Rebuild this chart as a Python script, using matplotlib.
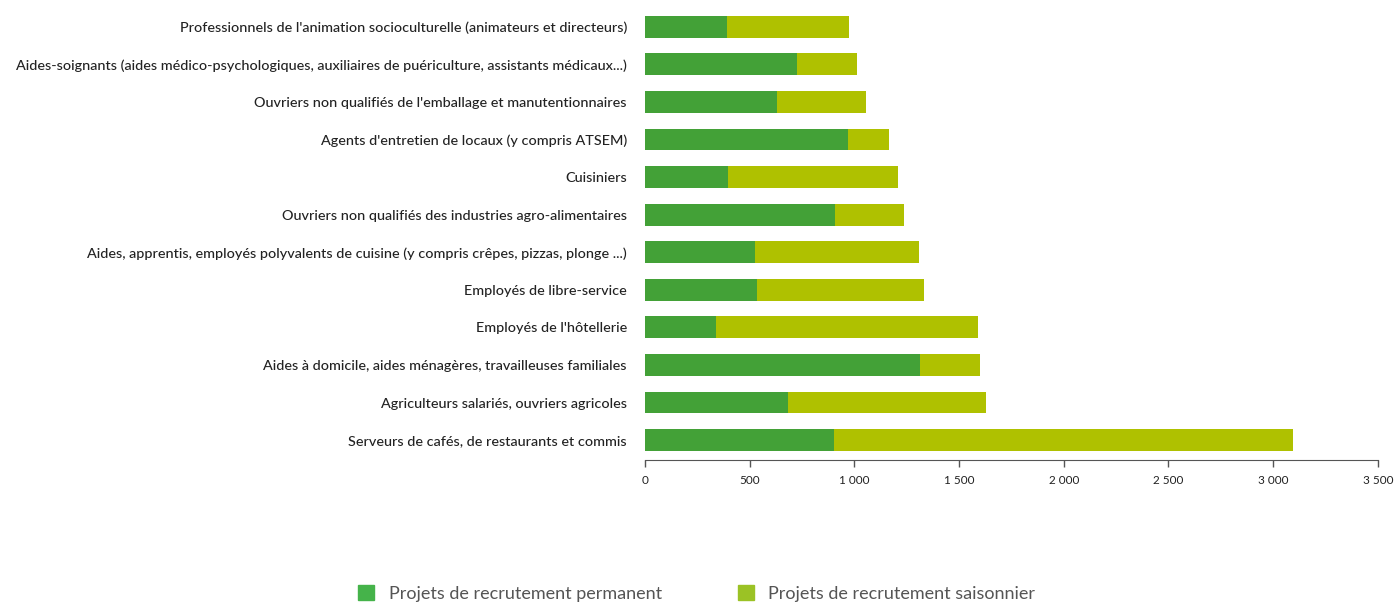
import matplotlib.pyplot as plt
from matplotlib.patches import Patch
from matplotlib.ticker import FuncFormatter

categories = [
    "Professionnels de l'animation socioculturelle (animateurs et directeurs)",
    "Aides-soignants (aides médico-psychologiques, auxiliaires de puériculture, assistants médicaux...)",
    "Ouvriers non qualifiés de l'emballage et manutentionnaires",
    "Agents d'entretien de locaux (y compris ATSEM)",
    "Cuisiniers",
    "Ouvriers non qualifiés des industries agro-alimentaires",
    "Aides, apprentis, employés polyvalents de cuisine (y compris crêpes, pizzas, plonge ...)",
    "Employés de libre-service",
    "Employés de l'hôtellerie",
    "Aides à domicile, aides ménagères, travailleuses familiales",
    "Agriculteurs salariés, ouvriers agricoles",
    "Serveurs de cafés, de restaurants et commis",
]
permanent = [392, 727, 630, 969, 397, 906, 527, 535, 340, 1314, 683, 902]
totals = [974, 1014, 1055, 1165, 1209, 1237, 1308, 1331, 1590, 1599, 1629, 3096]
saisonnier = [t - p for t, p in zip(totals, permanent)]
xticks = [0, 500, 1000, 1500, 2000, 2500, 3000, 3500]
series_names = ["Projets de recrutement permanent", "Projets de recrutement saisonnier"]

green = "#43a137"
lime = "#afc100"

plt.rcParams["font.family"] = ["Lato", "DejaVu Sans"]

fig = plt.figure(figsize=(13.96, 6.02), dpi=100)
ax = fig.add_axes([0.462, 0.2359, 0.525, 0.7508])

ypos = list(range(len(categories)))
ax.barh(ypos, permanent, height=0.58, color=green)
ax.barh(ypos, saisonnier, left=permanent, height=0.58, color=lime)

ax.set_ylim(11.53, -0.5)
ax.set_xlim(0, 3500)
ax.set_yticks(ypos)
ax.set_yticklabels(categories, fontsize=10.4, color="#222222", fontweight="medium")
ax.tick_params(axis="y", length=0, pad=13)

ax.set_xticks(xticks)
ax.xaxis.set_major_formatter(FuncFormatter(lambda v, p: f"{int(v):,}".replace(",", " ")))
ax.tick_params(axis="x", length=5, width=1, color="#555555", labelsize=8.5,
               labelcolor="#222222", pad=6)

for s in ["top", "right", "left"]:
    ax.spines[s].set_visible(False)
ax.spines["bottom"].set_color("#555555")

# the legend sits at the very bottom edge, as in the source chart
handles = [Patch(color="#45b34a"), Patch(color="#9bc225")]
fig.legend(handles, series_names, loc="center", bbox_to_anchor=(0.499, 0.014),
           ncol=2, frameon=False, fontsize=13, labelcolor="#555555",
           handlelength=0.9, handleheight=0.9, handletextpad=0.8, columnspacing=4.2)

fig.savefig("out.png", dpi=100)
